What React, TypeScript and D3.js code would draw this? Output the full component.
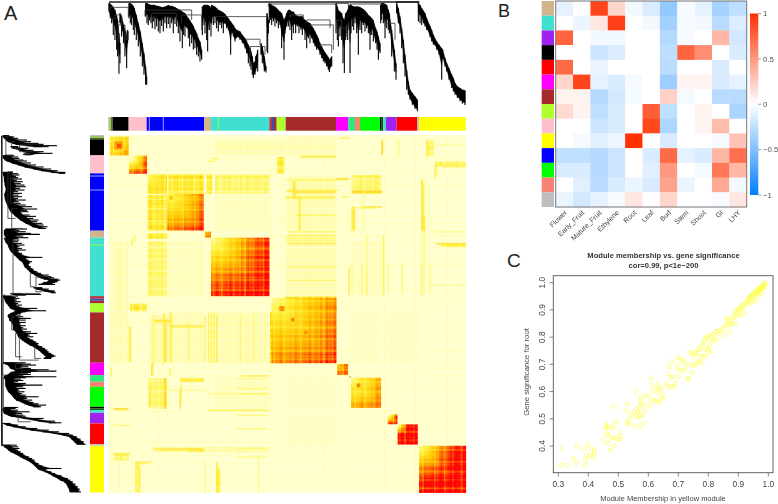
import React from "react";
import * as d3 from "d3";

// ---- modules, in dendrogram order (sizes in gene-order units)
const moduleColors = ["#BEBEBE", "#556B2F", "#000000", "#FFC0CB", "#0000FF", "#D2B48C", "#40E0D0", "#B03A48", "#3A50B0", "#A52A2A", "#ADFF2F", "#A52A2A", "#FF00FF", "#2EE87A", "#FA8072", "#00FF00", "#000000", "#006400", "#40E0D0", "#A020F0", "#FF0000", "#BEBEBE", "#FFFF00"];
const moduleSizes = [5, 8, 48, 54, 172, 21, 175, 8, 6, 8, 27, 151, 37, 20, 15, 60, 5, 5, 8, 32, 62, 5, 140];
const moduleAccents: [number, string][] = [[123, "#C8C8FF"], [165, "#C8C8FF"], [330, "#ADFF2F"], [7, "#ADFF2F"]];

// ---- TOM heatmap: diagonal blocks [from, to, levels from the pale corner to the hot corner]
const diagBlocks: [number, number, number[]][] = [
  [5, 60, [0.28, 0.32, 0.36, 0.44, 0.6]],
  [62, 115, [0.03, 0.06, 0.16, 0.32, 0.52, 0.7, 0.84, 0.95]],
  [118, 175, [0.14, 0.24, 0.3, 0.34, 0.32]],
  [177, 285, [0.16, 0.22, 0.28, 0.32, 0.38, 0.44, 0.5, 0.56, 0.64, 0.72, 0.82, 0.95]],
  [290, 306, [0.55, 0.65, 0.72]],
  [308, 482, [0.1, 0.18, 0.28, 0.38, 0.48, 0.58, 0.68, 0.78, 0.85, 0.92, 0.97, 1]],
  [490, 683, [0.12, 0.2, 0.26, 0.32, 0.38, 0.44, 0.5, 0.56, 0.62, 0.7, 0.8, 0.92]],
  [687, 718, [0.45, 0.6, 0.72, 0.78]],
  [728, 817, [0.08, 0.2, 0.28, 0.32, 0.36, 0.42, 0.5, 0.58, 0.66, 0.75]],
  [838, 866, [0.02, 0.25, 0.6, 0.88, 0.95]],
  [868, 927, [0.02, 0.5, 0.9, 1, 1, 1, 1]],
  [932, 1072, [0.15, 0.25, 0.38, 0.52, 0.65, 0.78, 0.88, 0.95, 1, 1, 1, 1]],
];

// hot spots on the diagonal [centre, half size, value]
const hotSpots: [number, number, number][] = [
  [30, 12, 0.6], [32, 6, 0.82], [52, 6, 0.6], [553, 5, 0.68], [520, 7, 0.66], [592, 4, 0.68], [750, 5, 0.68], [725, 1, 0.95], [188, 5, 0.5],
];

// symmetric off-diagonal blocks [a0, a1, b0, b1, value]
const crossBlocks: [number, number, number, number, number][] = [
  [118, 175, 180, 285, 0.28],
  [118, 175, 320, 482, 0.16],
  [118, 175, 295, 310, 0.26],
  [66, 114, 506, 528, 0.24],
  [120, 175, 730, 818, 0.14],
  [735, 820, 125, 175, 0.16],
  [485, 530, 600, 683, 0.38],
  [180, 285, 320, 482, 0.03],
  [215, 285, 730, 740, 0.22],
  [532, 683, 305, 330, 0.13],
  [530, 680, 485, 525, 0.36],
  [15, 60, 955, 975, 0.14],
  [130, 480, 935, 950, 0.07],
  [240, 290, 940, 948, 0.24],
  [1000, 1070, 325, 335, 0.22],
  [980, 1070, 80, 90, 0.16],
  [320, 680, 15, 60, 0.05],
  [540, 680, 125, 285, 0.06],
  [530, 680, 730, 820, 0.02],
  [730, 820, 320, 480, 0.03],
  [320, 480, 532, 683, 0.05],
  [180, 285, 532, 683, 0.04],
  [5, 60, 532, 683, 0.04],
  [530, 680, 840, 930, 0.02],
];

// streaks, mirrored across the diagonal [gene, from, to, value]
const streaks: [number, number, number, number][] = [
  [63, 575, 680, 0.3], [66, 575, 680, 0.28], [168, 535, 680, 0.32], [172, 560, 680, 0.36], [240, 560, 680, 0.22],
  [300, 535, 680, 0.3], [325, 540, 680, 0.32], [395, 540, 680, 0.2], [435, 535, 680, 0.2],
  [168, 730, 820, 0.5], [172, 730, 820, 0.42], [125, 745, 815, 0.26], [215, 760, 820, 0.42], [218, 745, 800, 0.26],
  [730, 215, 285, 0.2], [765, 120, 290, 0.14], [820, 15, 60, 0.45], [823, 20, 55, 0.36], [775, 300, 480, 0.18], [825, 300, 480, 0.24], [722, 400, 480, 0.32],
  [92, 980, 1072, 0.3], [95, 1000, 1072, 0.22], [325, 980, 1072, 0.34], [328, 990, 1072, 0.3], [290, 980, 1072, 0.16], [450, 960, 1072, 0.14], [30, 960, 1072, 0.1],
  [730, 385, 475, 0.16], [760, 385, 475, 0.2], [840, 385, 475, 0.18], [880, 385, 475, 0.2], [940, 385, 475, 0.18], [965, 385, 475, 0.18],
  [955, 15, 65, 0.34], [960, 20, 60, 0.26], [870, 15, 65, 0.2], [980, 85, 130, 0.3], [985, 90, 120, 0.22],
  [555, 135, 190, 0.42], [560, 140, 190, 0.3], [135, 555, 690, 0.2], [165, 535, 690, 0.26], [185, 530, 680, 0.3], [190, 533, 680, 0.24], [185, 700, 720, 0.28],
  [572, 185, 285, 0.34], [576, 190, 285, 0.24], [737, 215, 285, 0.36], [941, 135, 285, 0.38], [944, 150, 280, 0.3],
  [130, 685, 720, 0.44], [133, 685, 720, 0.3], [8, 695, 722, 0.3], [400, 722, 727, 0.24], [440, 723, 727, 0.24],
  [825, 300, 480, 0.2], [775, 400, 480, 0.2], [70, 310, 330, 0.3], [78, 300, 320, 0.26],
  [135, 530, 685, 0.18], [290, 540, 680, 0.26],
];

// per-gene connectivity weights, read along the matrix; they give the plaid look
const plaidWeights = [1, 1.05, 1.2, 0.65, 1, 0.95, 1.1, 1.3, 1.05, 0.6, 0.9, 1, 1, 1.15, 0.8, 1.05, 1.25, 1.1, 0.95, 0.55, 1, 1.1, 1.05, 0.9, 1.3, 1.15, 0.7, 1, 1, 1.05, 0.85, 1.2, 1, 0.6, 1.1, 1.3, 0.95, 1, 0.75, 1.1, 1.05, 1.2, 0.9, 1, 0.65, 1.15, 1.05, 1];

// faint lines over the whole matrix
const faintLines = [12, 28, 58, 72, 104, 121, 151, 176, 196, 245, 263, 288, 302, 336, 368, 391, 429, 463, 487, 503, 521, 561, 597, 613, 649, 681, 702, 722, 759, 802, 829, 862, 884, 921, 961, 984, 1017, 1046];

// ---- dendrogram, shared by both panels: rows of [gene, branch height, leaf height]
const dendroClusters: [number, number, number][][] = [
  [[2, 10, 35], [6, 12, 55], [10, 15, 70], [15, 22, 105], [20, 30, 120], [25, 48, 150], [28, 60, 170], [32, 100, 222], [35, 130, 190]],
  [[35, 40, 70], [40, 50, 110], [46, 75, 130], [50, 90, 170], [55, 110, 205], [58, 90, 130]],
  [[62, 10, 55], [66, 10, 70], [70, 12, 75], [75, 18, 90], [78, 25, 105], [84, 45, 120], [90, 70, 140], [96, 95, 170], [102, 130, 200], [107, 160, 225], [112, 200, 255], [115, 230, 255]],
  [[112, 10, 50], [116, 10, 70], [120, 12, 75], [124, 14, 62], [128, 15, 70], [132, 15, 85], [136, 15, 65], [140, 16, 88], [145, 18, 80], [150, 18, 95], [155, 20, 100], [160, 22, 78], [165, 22, 95], [170, 20, 70], [175, 18, 85], [180, 16, 72], [185, 18, 85], [190, 18, 70], [195, 20, 100], [200, 22, 72], [205, 25, 80], [210, 28, 100], [215, 30, 125], [222, 35, 145], [226, 38, 105], [230, 40, 110], [240, 55, 115], [244, 60, 140], [250, 70, 130], [255, 78, 150], [260, 90, 145], [265, 100, 165], [270, 115, 170], [275, 125, 185], [280, 150, 180]],
  [[282, 20, 105], [287, 15, 75], [290, 15, 100], [295, 15, 120], [298, 15, 155], [303, 18, 90], [308, 22, 110], [310, 25, 70]],
  [[310, 15, 60], [315, 18, 75], [320, 20, 70], [325, 25, 85], [330, 30, 95], [335, 32, 75], [340, 35, 85], [345, 38, 100], [350, 42, 72], [355, 50, 85], [360, 55, 90], [367, 65, 165], [370, 70, 100], [375, 75, 110], [380, 85, 125], [385, 90, 115], [395, 95, 120], [402, 105, 130], [410, 115, 145], [415, 125, 160], [420, 135, 190], [425, 145, 200], [428, 155, 210], [432, 170, 225], [435, 190, 235], [440, 185, 225]],
  [[442, 170, 215], [445, 165, 205], [448, 150, 215]],
  [[458, 130, 165], [462, 140, 190], [468, 170, 215], [473, 200, 218]],
  [[476, 40, 80], [478, 50, 160], [480, 60, 100]],
  [[483, 10, 70], [487, 12, 60], [490, 15, 75], [495, 18, 65], [500, 20, 80], [505, 25, 70], [510, 30, 85], [515, 35, 75], [520, 40, 145], [527, 60, 180], [530, 55, 100], [535, 40, 80], [540, 30, 80], [545, 30, 90], [550, 35, 120], [555, 35, 100], [562, 45, 100], [567, 48, 80], [572, 50, 100], [578, 50, 90], [582, 50, 105], [590, 60, 120], [595, 65, 145], [600, 68, 115], [605, 70, 130], [610, 78, 115], [615, 85, 130], [620, 95, 140], [625, 105, 150], [630, 115, 150], [635, 130, 165], [640, 140, 175], [645, 150, 185], [650, 158, 190], [655, 165, 200], [660, 172, 210], [663, 180, 217], [670, 170, 200]],
  [[683, 10, 100], [687, 20, 120], [690, 30, 140], [695, 35, 110], [700, 40, 120], [704, 55, 190], [708, 60, 220], [712, 40, 120], [716, 35, 100]],
  [[718, 30, 120], [722, 18, 90], [725, 15, 220], [728, 15, 100], [732, 18, 80], [736, 20, 90], [740, 20, 70], [745, 20, 100], [750, 20, 165], [755, 22, 90], [760, 25, 100], [765, 28, 75], [770, 32, 95], [775, 38, 85], [780, 45, 100], [785, 50, 150], [790, 55, 105], [795, 62, 125], [802, 85, 130], [806, 95, 150], [810, 110, 180], [815, 130, 160]],
  [[817, 15, 70], [820, 10, 60], [825, 10, 70], [830, 12, 115], [835, 15, 85], [840, 30, 90], [843, 40, 100], [850, 90, 170], [858, 150, 215], [863, 190, 240]],
  [[865, 10, 40], [870, 25, 70], [875, 50, 100], [880, 85, 145], [885, 120, 190], [890, 165, 230], [895, 210, 270], [900, 245, 285], [905, 270, 300], [912, 280, 315], [920, 290, 328], [927, 300, 335]],
  [[930, 10, 65], [935, 15, 70], [940, 25, 75], [945, 32, 70], [950, 40, 80], [955, 55, 90], [965, 78, 112], [970, 90, 125], [975, 105, 135], [985, 125, 150], [992, 135, 165], [1000, 145, 240], [1003, 150, 178], [1010, 175, 200], [1015, 190, 215], [1022, 205, 240], [1030, 225, 265], [1035, 235, 275], [1040, 250, 285], [1047, 260, 295], [1055, 265, 305], [1062, 270, 312], [1070, 272, 316]],
];

// merges [gene a, gene b, height, drop at a, drop at b]
const dendroMerges: [number, number, number, number, number][] = [
  [5, 930, 6, 10, 10],
  [5, 60, 22, 35, 50],
  [20, 40, 45, 60, 75],
  [30, 50, 75, 130, 130],
  [55, 60, 95, 120, 120],
  [130, 205, 40, 65, 70],
  [110, 250, 30, 50, 60],
  [220, 280, 45, 70, 90],
  [315, 475, 50, 60, 155],
  [415, 455, 118, 125, 135],
  [425, 470, 140, 170, 165],
  [480, 680, 12, 20, 15],
  [545, 585, 45, 55, 60],
  [595, 665, 60, 70, 85],
  [605, 675, 75, 80, 150],
  [635, 670, 135, 140, 160],
  [685, 720, 10, 20, 25],
  [725, 825, 12, 18, 18],
  [830, 860, 70, 80, 120],
  [685, 700, 60, 90, 90],
  [690, 715, 85, 110, 110],
  [865, 930, 6, 10, 10],
];

// ---- panel B: module-trait correlations
const traitLabels = ["Flower", "Early_Fruit", "Mature_Fruit", "Ethylene", "Root", "Leaf", "Bud", "Stem", "Shoot", "GI", "LHY"];
const traitModules = ["#D2B48C", "#40E0D0", "#A020F0", "#000000", "#FF0000", "#FF00FF", "#A52A2A", "#ADFF2F", "#FFC0CB", "#FFFF00", "#0000FF", "#00FF00", "#FA8072", "#BEBEBE"];
const traitCors = [
  [-0.1, 0, 0.9, 0.2, -0.05, -0.15, -0.42, -0.03, -0.1, -0.35, -0.25],
  [0, -0.08, 0.12, 0.92, 0, -0.05, -0.36, -0.04, -0.05, -0.28, -0.14],
  [0.75, 0, -0.05, -0.05, 0, 0, -0.3, -0.03, 0, 0.35, -0.18],
  [0, 0, -0.2, -0.14, 0, 0, -0.26, 0.75, 0.55, 0, -0.15],
  [0.72, 0, -0.08, 0, 0, 0, -0.27, 0, 0, -0.15, 0],
  [0.2, 0.9, -0.1, -0.15, -0.04, 0, -0.38, 0.05, 0.06, -0.15, -0.1],
  [0.06, 0.06, -0.3, -0.18, -0.04, 0, 0.22, -0.04, 0, -0.28, -0.28],
  [0.18, 0.06, -0.25, -0.15, 0, 0.78, -0.25, 0, 0.06, 0, -0.33],
  [0, 0, -0.2, -0.15, 0, 0.88, -0.32, 0, 0.05, 0.33, 0],
  [0, -0.04, -0.12, -0.07, 1, 0, -0.15, 0, 0, -0.03, 0.3],
  [-0.25, -0.25, -0.3, -0.2, 0, -0.15, 0.72, -0.1, -0.15, 0.35, 0.7],
  [-0.15, -0.15, -0.3, -0.2, 0, -0.12, 0.5, 0, -0.04, 0.65, 0.35],
  [0, -0.12, -0.28, -0.15, -0.08, -0.15, 0.45, -0.08, 0, 0.42, -0.05],
  [-0.08, -0.18, -0.1, -0.04, 0.12, 0, 0.2, 0, 0, -0.03, 0.12],
];
const corTicks = [1, 0.5, 0, -0.5, -1];

// ---- panel C: yellow module genes [membership, significance]
const yellowGenes: [number, number][] = [
  [0.31, 0.393], [0.31, 0.33], [0.33, 0.33], [0.35, 0.355], [0.36, 0.34], [0.363, 0.4], [0.385, 0.388], [0.39, 0.33], [0.39, 0.35], [0.395, 0.365], [0.4, 0.405], [0.405, 0.365], [0.41, 0.39], [0.415, 0.355], [0.42, 0.385], [0.418, 0.37], [0.42, 0.37],
  [0.45, 0.422], [0.458, 0.48], [0.458, 0.465], [0.46, 0.47], [0.462, 0.445], [0.465, 0.44], [0.467, 0.41], [0.47, 0.47], [0.473, 0.385], [0.478, 0.43], [0.48, 0.465], [0.482, 0.545], [0.483, 0.475], [0.485, 0.43], [0.488, 0.4], [0.492, 0.49], [0.495, 0.425], [0.503, 0.425], [0.505, 0.45], [0.508, 0.435],
  [0.525, 0.53], [0.53, 0.48], [0.53, 0.555], [0.532, 0.495], [0.535, 0.485], [0.54, 0.515], [0.55, 0.51], [0.552, 0.525], [0.555, 0.475], [0.556, 0.603], [0.56, 0.535], [0.565, 0.525], [0.565, 0.505], [0.568, 0.54], [0.57, 0.47], [0.572, 0.51], [0.575, 0.565], [0.575, 0.58], [0.577, 0.555], [0.58, 0.515], [0.585, 0.484], [0.585, 0.55], [0.588, 0.53], [0.59, 0.585], [0.6, 0.585],
  [0.605, 0.545], [0.61, 0.565], [0.61, 0.65], [0.612, 0.625], [0.615, 0.605], [0.62, 0.57], [0.625, 0.565], [0.63, 0.595], [0.632, 0.625], [0.635, 0.61], [0.635, 0.56], [0.64, 0.6], [0.64, 0.57], [0.642, 0.615], [0.65, 0.575], [0.65, 0.585], [0.66, 0.63], [0.665, 0.665], [0.668, 0.62], [0.67, 0.69], [0.675, 0.615], [0.675, 0.65], [0.678, 0.71], [0.68, 0.655], [0.685, 0.62], [0.69, 0.63], [0.695, 0.7], [0.698, 0.68], [0.7, 0.655],
  [0.7, 0.725], [0.705, 0.72], [0.71, 0.68], [0.715, 0.675], [0.72, 0.705], [0.72, 0.715], [0.725, 0.69], [0.73, 0.645], [0.735, 0.65], [0.738, 0.745], [0.74, 0.7], [0.745, 0.74], [0.748, 0.67], [0.75, 0.73], [0.752, 0.695], [0.755, 0.7], [0.758, 0.745], [0.76, 0.74], [0.765, 0.71], [0.768, 0.755], [0.77, 0.715], [0.772, 0.76], [0.775, 0.73], [0.78, 0.705], [0.78, 0.775], [0.785, 0.73], [0.79, 0.755], [0.79, 0.73], [0.795, 0.76], [0.8, 0.75], [0.805, 0.77],
  [0.785, 0.78], [0.79, 0.795], [0.795, 0.8], [0.8, 0.805], [0.803, 0.79], [0.808, 0.745], [0.81, 0.8], [0.815, 0.81], [0.82, 0.79], [0.82, 0.785], [0.825, 0.82], [0.83, 0.82], [0.833, 0.8], [0.84, 0.825], [0.845, 0.83], [0.85, 0.81], [0.855, 0.84], [0.86, 0.87], [0.86, 0.845], [0.865, 0.85], [0.868, 0.865], [0.87, 0.82], [0.872, 0.845], [0.875, 0.86], [0.88, 0.85], [0.882, 0.87], [0.885, 0.88], [0.888, 0.85], [0.89, 0.895], [0.892, 0.875], [0.895, 0.89], [0.897, 0.9], [0.9, 0.9], [0.902, 0.885], [0.905, 0.905], [0.908, 0.91], [0.91, 0.88], [0.912, 0.915], [0.915, 0.92], [0.918, 0.905], [0.92, 0.89],
  [0.925, 0.925], [0.93, 0.93], [0.932, 0.92], [0.935, 0.945], [0.938, 0.94], [0.94, 0.925], [0.942, 0.95], [0.945, 0.955], [0.948, 0.935], [0.95, 0.96], [0.952, 0.945], [0.955, 0.96], [0.957, 0.93], [0.96, 0.965], [0.963, 0.975], [0.965, 0.97], [0.968, 0.95], [0.97, 0.98], [0.972, 0.975], [0.975, 0.985], [0.977, 0.96], [0.98, 0.99], [0.982, 0.985], [0.985, 0.995], [0.987, 0.995], [0.988, 0.99], [0.99, 1.0],
  [0.93, 0.935], [0.94, 0.945], [0.95, 0.95], [0.96, 0.96], [0.965, 0.965], [0.97, 0.97], [0.975, 0.975], [0.98, 0.98], [0.983, 0.98], [0.986, 0.985], [0.975, 0.98], [0.968, 0.975], [0.96, 0.97],
];
const xTicks = [0.3, 0.4, 0.5, 0.6, 0.7, 0.8, 0.9, 1.0];
const yTicks = [0.4, 0.5, 0.6, 0.7, 0.8, 0.9, 1.0];

const FONT = "'Liberation Sans', Arial, sans-serif";
const CELL = 5;
const geneTotal = d3.sum(moduleSizes);
const geneX = d3.scaleLinear().domain([0, geneTotal]).range([108.3, 465.7]);
const geneY = d3.scaleLinear().domain([0, geneTotal]).range([135, 492.5]);
const heat = d3.scaleLinear<string>().domain([0, 0.25, 0.5, 0.75, 1]).range(["#FFFFD0", "#FFF23C", "#FFC800", "#FF7000", "#FF0000"]).clamp(true);
const depthTop = d3.scaleLinear().domain([6, 340]).range([2, 113]);
const depthLeft = d3.scaleLinear().domain([6, 340]).range([1.8, 87]);
const corColor = d3.scaleLinear<string>().domain([-1, 0, 1]).range(["#007FFF", "#FFFFFF", "#FF3000"]);

const moduleEdges = d3.cumsum(moduleSizes);
const plaid = (g: number) => plaidWeights[Math.floor(g / CELL) % plaidWeights.length];

function mergePath(m: [number, number, number, number, number], pos: (g: number) => number, dep: (d: number) => number, vertical: boolean) {
  const [a, b, h, da, db] = m;
  const pts: [number, number][] = [[a, da], [a, h], [b, h], [b, db]];
  return "M" + pts.map(([g, d]) => (vertical ? `${pos(g)},${dep(d)}` : `${dep(d)},${pos(g)}`)).join("L");
}

// solid part of a branch; the leaves below it are drawn as separate spikes
const coreEnd = (d: [number, number, number]) => {
  const span = d[2] - d[1];
  return span >= 50 ? d[1] + span * 0.55 : d[2] - 6;
};

function Dendrogram({ vertical }: { vertical: boolean }) {
  const pos = vertical ? geneX : geneY;
  const dep = vertical ? depthTop : depthLeft;
  const area = vertical
    ? d3.area<[number, number, number]>().x((d) => pos(d[0])).y0((d) => dep(d[1])).y1((d) => dep(coreEnd(d)))
    : d3.area<[number, number, number]>().y((d) => pos(d[0])).x0((d) => dep(d[1])).x1((d) => dep(coreEnd(d)));
  const spike = (d: [number, number, number]) =>
    vertical
      ? { x1: pos(d[0]), x2: pos(d[0]), y1: dep(d[1]), y2: dep(d[2]) }
      : { y1: pos(d[0]), y2: pos(d[0]), x1: dep(d[1]), x2: dep(d[2]) };
  return (
    <g>
      {dendroClusters.map((c, i) => (
        <g key={i}>
          <path d={area(c) || ""} fill="#000" stroke="#000" strokeWidth={0.4} />
          {c.map((d, j) => (
            <line key={j} {...spike(d)} stroke="#000" strokeWidth={1.1} />
          ))}
        </g>
      ))}
      {dendroMerges.map((m, i) => (
        <path key={i} d={mergePath(m, pos, dep, vertical)} fill="none" stroke={m[2] <= 12 ? "#222" : "#333"} strokeWidth={m[2] === 6 ? 1.6 : 0.8} />
      ))}
    </g>
  );
}

function TomHeatmap() {
  const box = (x0: number, x1: number, y0: number, y1: number) => ({ x: geneX(x0), y: geneY(y0), width: geneX(x1) - geneX(x0) + 0.4, height: geneY(y1) - geneY(y0) + 0.4 });

  const cells: { x: number; y: number; v: number; w: number; h: number }[] = [];
  crossBlocks.forEach(([a0, a1, b0, b1, v]) => {
    for (const a of d3.range(a0, a1, CELL)) {
      for (const b of d3.range(b0, b1, CELL)) {
        const value = v * plaid(a) * plaid(b);
        cells.push({ x: a, y: b, v: value, w: Math.min(CELL, a1 - a), h: Math.min(CELL, b1 - b) });
        cells.push({ x: b, y: a, v: value, w: Math.min(CELL, b1 - b), h: Math.min(CELL, a1 - a) });
      }
    }
  });
  diagBlocks.forEach(([a, b, levels]) => {
    const level = d3.scaleLinear().domain(levels.map((_, i) => i / (levels.length - 1))).range(levels);
    for (const i of d3.range(a, b, CELL)) {
      for (const j of d3.range(a, b, CELL)) {
        const u = (i - a) / (b - a);
        const w = (j - a) / (b - a);
        const place = 0.55 * Math.max(u, w) + 0.45 * ((u + w) / 2);
        const soft = (1 + (plaid(i) - 1) * 0.45) * (1 + (plaid(j) - 1) * 0.45);
        cells.push({ x: i, y: j, v: level(place) * soft, w: Math.min(CELL, b - i), h: Math.min(CELL, b - j) });
      }
    }
  });

  return (
    <g filter="url(#soft)">
      <rect {...box(0, geneTotal, 0, geneTotal)} fill={heat(0)} />
      {faintLines.map((g, i) => (
        <g key={i} stroke={heat(0.1)} strokeOpacity={i % 3 === 0 ? 0.45 : 0.25} strokeWidth={0.8}>
          <line x1={geneX(g)} x2={geneX(g)} y1={geneY(0)} y2={geneY(geneTotal)} />
          <line y1={geneY(g)} y2={geneY(g)} x1={geneX(0)} x2={geneX(geneTotal)} />
        </g>
      ))}
      {cells.map((c, i) => (
        <rect key={i} {...box(c.x, c.x + c.w, c.y, c.y + c.h)} fill={heat(c.v)} />
      ))}
      {hotSpots.map(([g, h, v], i) => (
        <rect key={i} {...box(g - h, g + h, g - h, g + h)} fill={heat(v)} />
      ))}
      {streaks.map(([g, from, to, v], i) => (
        <g key={i} fill={heat(v)} fillOpacity={0.7}>
          <rect {...box(g - 1.5, g + 1.5, from, to)} />
          <rect {...box(from, to, g - 1.5, g + 1.5)} />
        </g>
      ))}
    </g>
  );
}

function ModuleBars() {
  return (
    <g filter="url(#soft)">
      {moduleSizes.map((s, i) => {
        const g0 = moduleEdges[i] - s;
        return (
          <g key={i} fill={moduleColors[i]}>
            <rect x={geneX(g0)} y={117} width={geneX(s) - geneX(0)} height={13.7} />
            <rect x={90} y={geneY(g0)} width={14} height={geneY(s) - geneY(0)} />
          </g>
        );
      })}
      {moduleAccents.map(([g, c], i) => (
        <g key={i} stroke={c} strokeWidth={0.8}>
          <line x1={geneX(g)} x2={geneX(g)} y1={117} y2={130.7} />
          <line y1={geneY(g)} y2={geneY(g)} x1={90} x2={104} />
        </g>
      ))}
    </g>
  );
}

function TraitPanel() {
  const x = d3.scaleBand<number>().domain(d3.range(traitLabels.length)).range([555.7, 746.7]);
  const y = d3.scaleBand<number>().domain(d3.range(traitModules.length)).range([1, 207]);
  const bar = d3.scaleLinear().domain([1, -1]).range([13.5, 195]);
  return (
    <g fontFamily={FONT} filter="url(#soft)">
      {traitModules.map((c, r) => (
        <rect key={r} x={541.7} y={y(r)} width={12.3} height={y.bandwidth()} fill={c} />
      ))}
      {traitCors.map((row, r) =>
        row.map((v, c) => (
          <rect key={`${r}-${c}`} x={x(c)} y={y(r)} width={x.bandwidth() + 0.3} height={y.bandwidth() + 0.3} fill={corColor(v)} />
        ))
      )}
      <rect x={555.7} y={1} width={191} height={206} fill="none" stroke="#777" strokeWidth={1} />
      {traitLabels.map((t, c) => (
        <text key={t} transform={`translate(${x(c)! + x.bandwidth() / 2 + 3},${213}) rotate(-45)`} textAnchor="end" fontSize={7} fill="#444">
          {t}
        </text>
      ))}
      <rect x={750} y={13.5} width={8.3} height={181.5} fill="url(#corbar)" />
      {corTicks.map((t) => (
        <g key={t}>
          <line x1={758.3} x2={761} y1={bar(t)} y2={bar(t)} stroke="#666" strokeWidth={0.7} />
          <text x={763} y={bar(t) + 2.8} fontSize={7.8} fill="#555">
            {t === 0 ? "0" : t < 0 ? "\u2212" + Math.abs(t) : t}
          </text>
        </g>
      ))}
    </g>
  );
}

function ScatterPanel() {
  const x = d3.scaleLinear().domain([0.3, 1]).range([558.3, 768.3]);
  const y = d3.scaleLinear().domain([0.4, 1]).range([446, 282.7]);
  return (
    <g fontFamily={FONT} filter="url(#faint)">
      <text x={663.5} y={258} textAnchor="middle" fontSize={7.6} fontWeight="bold" fill="#333">
        Module membership vs. gene significance
      </text>
      <text x={663.5} y={267.5} textAnchor="middle" fontSize={7.6} fontWeight="bold" fill="#333">
        cor=0.99, p&lt;1e{"\u2212"}200
      </text>
      <rect x={553.3} y={275.7} width={219.7} height={197} fill="none" stroke="#555" strokeWidth={0.9} />
      {xTicks.map((t) => (
        <g key={t}>
          <line x1={x(t)} x2={x(t)} y1={472.7} y2={476.5} stroke="#555" strokeWidth={0.7} />
          <text x={x(t)} y={487} textAnchor="middle" fontSize={8.4} fill="#444">
            {t.toFixed(1)}
          </text>
        </g>
      ))}
      {yTicks.map((t) => (
        <g key={t}>
          <line x1={549.5} x2={553.3} y1={y(t)} y2={y(t)} stroke="#555" strokeWidth={0.7} />
          <text transform={`translate(545,${y(t)}) rotate(-90)`} textAnchor="middle" fontSize={8.4} fill="#444">
            {t.toFixed(1)}
          </text>
        </g>
      ))}
      <text x={663} y={500.5} textAnchor="middle" fontSize={7.5} fill="#444">
        Module Membership in yellow module
      </text>
      <text transform={`translate(528.5,372) rotate(-90)`} textAnchor="middle" fontSize={7.7} fill="#444">
        Gene significance for root
      </text>
      {yellowGenes.map(([m, s], i) => (
        <circle key={i} cx={x(m)} cy={y(s)} r={2} fill="none" stroke="#FFFF50" strokeWidth={0.7} />
      ))}
    </g>
  );
}

export default function App() {
  return (
    <svg width={778} height={504} style={{ position: "fixed", left: 0, top: 0, background: "#fff" }}>
      <defs>
        <filter id="soft" x="-5%" y="-5%" width="110%" height="110%">
          <feGaussianBlur stdDeviation={0.6} />
        </filter>
        <filter id="faint" x="-5%" y="-5%" width="110%" height="110%">
          <feGaussianBlur stdDeviation={0.25} />
        </filter>
        <linearGradient id="corbar" x1="0" x2="0" y1="0" y2="1">
          {corTicks.map((t) => (
            <stop key={t} offset={(1 - t) / 2} stopColor={corColor(t)} />
          ))}
        </linearGradient>
      </defs>
      <text x={4} y={20} fontFamily={FONT} fontSize={20} fill="#222">A</text>
      <text x={498} y={17} fontFamily={FONT} fontSize={18} fill="#222">B</text>
      <text x={507} y={267} fontFamily={FONT} fontSize={19} fill="#222">C</text>
      <g filter="url(#faint)">
        <Dendrogram vertical={true} />
        <Dendrogram vertical={false} />
      </g>
      <ModuleBars />
      <TomHeatmap />
      <TraitPanel />
      <ScatterPanel />
    </svg>
  );
}
